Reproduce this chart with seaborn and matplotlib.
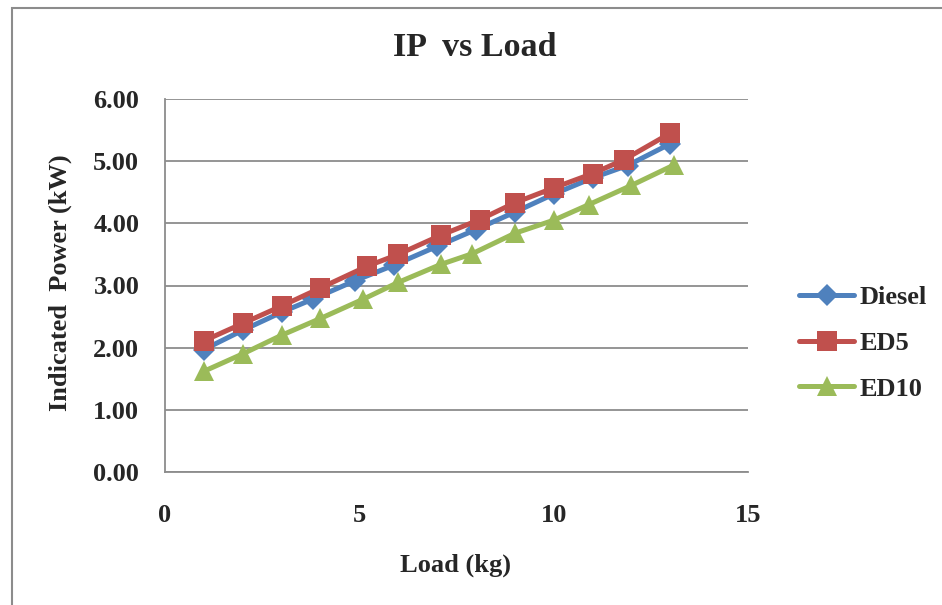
import matplotlib
matplotlib.use("Agg")
import matplotlib.pyplot as plt
import seaborn as sns
import pandas as pd
from matplotlib.patches import Rectangle

# ---- data ----
diesel_load = [1, 2, 3, 3.8, 4.9, 5.9, 7, 8, 9, 10, 11, 11.9, 13]
diesel_ip = [1.97, 2.28, 2.57, 2.78, 3.08, 3.33, 3.63, 3.90, 4.18, 4.47, 4.73, 4.93, 5.28]
ed5_load = [1, 2, 3, 4, 5.2, 6, 7.1, 8.1, 9, 10, 11, 11.8, 13]
ed5_ip = [2.11, 2.39, 2.67, 2.96, 3.31, 3.50, 3.81, 4.06, 4.33, 4.57, 4.80, 5.02, 5.45]
ed10_load = [1, 2, 3, 4, 5.1, 6, 7.1, 7.9, 9, 10, 10.9, 12, 13.1]
ed10_ip = [1.62, 1.90, 2.20, 2.47, 2.78, 3.05, 3.34, 3.51, 3.84, 4.05, 4.30, 4.61, 4.94]
series_names = ["Diesel", "ED5", "ED10"]
x_ticks = [0, 5, 10, 15]
y_ticks = [0, 1, 2, 3, 4, 5, 6]

df = pd.concat([
    pd.DataFrame({"Load": diesel_load, "IP": diesel_ip, "Fuel": "Diesel"}),
    pd.DataFrame({"Load": ed5_load, "IP": ed5_ip, "Fuel": "ED5"}),
    pd.DataFrame({"Load": ed10_load, "IP": ed10_ip, "Fuel": "ED10"}),
], ignore_index=True)

sns.set_theme(style="white")
plt.rcParams["font.family"] = ["Liberation Serif", "DejaVu Serif"]
plt.rcParams["font.weight"] = "bold"

fig = plt.figure(figsize=(9.42, 6.05), dpi=100)
ax = fig.add_axes([165 / 942, 1 - 472 / 605, (748 - 165) / 942, (472 - 99) / 605])

palette = {"Diesel": "#4F81BD", "ED5": "#C0504D", "ED10": "#9BBB59"}
markers = {"Diesel": "D", "ED5": "s", "ED10": "^"}
sizes = {"Diesel": 11, "ED5": 14, "ED10": 15}
for name in series_names:
    sub = df[df["Fuel"] == name]
    sns.lineplot(data=sub, x="Load", y="IP", ax=ax, color=palette[name],
                 marker=markers[name], markersize=sizes[name], markeredgewidth=0,
                 linewidth=3.6, label=name, sort=False, estimator=None)

ax.set_xlim(0, 15)
ax.set_ylim(0, 6)
ax.set_xticks(x_ticks)
ax.set_xticklabels([str(t) for t in x_ticks])
ax.set_yticks(y_ticks)
ax.set_yticklabels([f"{t:.2f}" for t in y_ticks])
ax.yaxis.grid(True, color="#8c8c8c", linewidth=1.3)
ax.xaxis.grid(False)
for s in ["top", "right"]:
    ax.spines[s].set_visible(False)
for s in ["left", "bottom"]:
    ax.spines[s].set_color("#8c8c8c")
    ax.spines[s].set_linewidth(1.3)
ax.tick_params(axis="y", length=4, color="#8c8c8c", width=1.2, pad=14.5, labelsize=19)
ax.tick_params(axis="x", length=0, pad=23, labelsize=19)
for lab in ax.get_xticklabels() + ax.get_yticklabels():
    lab.set_fontweight("bold")

ax.set_xlabel("")
ax.set_ylabel("")
fig.text(456 / 942, 1 - 565 / 605, "Load (kg)", ha="center", va="center",
         fontsize=19, fontweight="bold")
fig.text(60 / 942, 1 - 283 / 605, "Indicated  Power (kW)", ha="center", va="center",
         rotation=90, fontsize=19, fontweight="bold")
fig.text(475 / 942, 1 - 47 / 605, "IP  vs Load", ha="center", va="center",
         fontsize=24.5, fontweight="bold")

ax.get_legend().remove()
h, l = ax.get_legend_handles_labels()
leg = fig.legend(h, l, loc="center left", bbox_to_anchor=(799 / 942, 1 - 343 / 605),
                 frameon=False, prop={"family": "Liberation Serif", "weight": "bold", "size": 19},
                 handlelength=2.1, handletextpad=0.2, labelspacing=0.85, borderaxespad=0,
                 borderpad=0)

fig.patches.append(Rectangle((12 / 942, -0.1), 1.2, 1 - 8 / 605 + 0.1,
                             transform=fig.transFigure, fill=False,
                             edgecolor="#8c8c8c", linewidth=1.5))

fig.savefig("out.png", dpi=100)
